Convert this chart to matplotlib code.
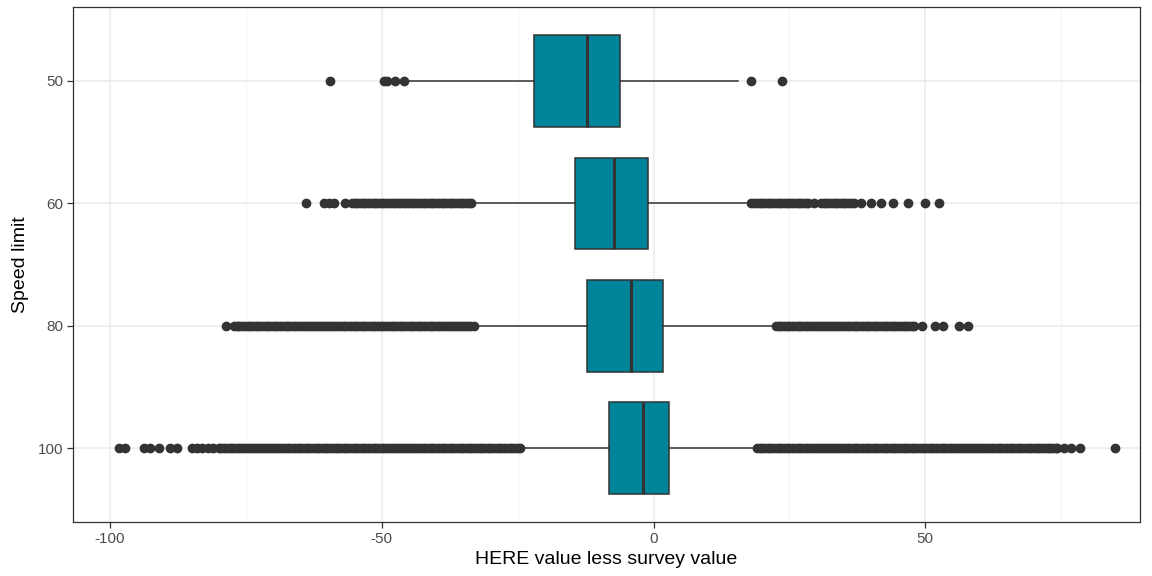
import matplotlib.pyplot as plt

# speed limit groups, top to bottom
speed_limits = ['50', '60', '80', '100']

# box statistics per group
q1 = [-22.0, -14.4, -12.2, -8.2]
medians = [-12.2, -7.3, -4.2, -1.9]
q3 = [-6.1, -1.1, 1.7, 2.8]
whisker_lo = [-45.0, -33.0, -32.5, -24.0]
whisker_hi = [15.5, 17.5, 22.0, 18.5]

# outlying points per group
outliers_50 = [-59.5, -49.6, -49.0, -47.6, -46.0, 18.0, 23.6]

outliers_60 = [
    -63.9, -60.6, -59.8, -58.8, -56.8,
    -55.5, -55.0, -54.5, -54.0, -53.5, -53.0, -52.5, -52.0, -51.5, -51.0,
    -50.5, -50.0, -49.5, -49.0, -48.5, -48.0, -47.5, -47.0, -46.5, -46.0,
    -45.5, -45.0, -44.5, -44.0, -43.5, -43.0, -42.5, -42.0, -41.5, -41.0,
    -40.5, -40.0, -39.5, -39.0, -38.5, -38.0, -37.5, -37.0, -36.5, -36.0,
    -35.5, -35.0, -34.5, -34.0, -33.5,
    18.0, 18.5, 19.0, 19.5, 20.0, 20.5, 21.0, 21.5, 22.0, 22.5, 23.0, 23.5,
    24.0, 24.5, 25.0, 25.5, 26.0, 26.5, 27.0, 27.5, 28.0, 28.5, 29.6,
    30.8, 31.3, 31.8, 32.3, 32.8, 33.3, 33.8, 34.3, 34.8, 35.3, 35.8, 36.3,
    36.9, 38.2, 40.0, 41.9, 44.0, 46.9, 49.9, 52.6]

outliers_80 = [
    -78.6, -77.2, -76.7, -76.2, -75.7, -75.2, -74.7, -74.2, -73.7, -73.2,
    -72.7, -72.2, -71.7, -71.2, -70.7, -70.2, -69.7, -69.2, -68.7, -68.2,
    -67.7, -67.2, -66.7, -66.2, -65.7, -65.2, -64.7, -64.2, -63.7, -63.2,
    -62.7, -62.2, -61.7, -61.2, -60.7, -60.2, -59.7, -59.2, -58.7, -58.2,
    -57.7, -57.2, -56.7, -56.2, -55.7, -55.2, -54.7, -54.2, -53.7, -53.2,
    -52.7, -52.2, -51.7, -51.2, -50.7, -50.2, -49.7, -49.2, -48.7, -48.2,
    -47.7, -47.2, -46.7, -46.2, -45.7, -45.2, -44.7, -44.2, -43.7, -43.2,
    -42.7, -42.2, -41.7, -41.2, -40.7, -40.2, -39.7, -39.2, -38.7, -38.2,
    -37.7, -37.2, -36.7, -36.2, -35.7, -35.2, -34.7, -34.2, -33.7, -33.0,
    22.5, 23.0, 23.5, 24.0, 24.5, 25.0, 25.5, 26.0, 26.5, 27.0, 27.5, 28.0,
    28.5, 29.0, 29.5, 30.0, 30.5, 31.0, 31.5, 32.0, 32.5, 33.0, 33.5, 34.0,
    34.5, 35.0, 35.5, 36.0, 36.5, 37.0, 37.5, 38.0, 38.5, 39.0, 39.5, 40.0,
    40.5, 41.0, 41.5, 42.0, 42.5, 43.0, 43.5, 44.0, 44.5, 45.0, 45.5, 46.0,
    46.5, 47.0, 47.5, 48.0, 49.4, 51.8, 53.3, 56.2, 57.9]

outliers_100 = [
    -98.3, -97.2, -93.8, -92.6, -90.9, -88.9, -87.6, -85.0, -84.0, -83.0,
    -82.0, -81.0, -80.0, -79.5, -79.0, -78.5, -78.0, -77.5, -77.0, -76.5,
    -76.0, -75.5, -75.0, -74.5, -74.0, -73.5, -73.0, -72.5, -72.0, -71.5,
    -71.0, -70.5, -70.0, -69.5, -69.0, -68.5, -68.0, -67.5, -67.0, -66.5,
    -66.0, -65.5, -65.0, -64.5, -64.0, -63.5, -63.0, -62.5, -62.0, -61.5,
    -61.0, -60.5, -60.0, -59.5, -59.0, -58.5, -58.0, -57.5, -57.0, -56.5,
    -56.0, -55.5, -55.0, -54.5, -54.0, -53.5, -53.0, -52.5, -52.0, -51.5,
    -51.0, -50.5, -50.0, -49.5, -49.0, -48.5, -48.0, -47.5, -47.0, -46.5,
    -46.0, -45.5, -45.0, -44.5, -44.0, -43.5, -43.0, -42.5, -42.0, -41.5,
    -41.0, -40.5, -40.0, -39.5, -39.0, -38.5, -38.0, -37.5, -37.0, -36.5,
    -36.0, -35.5, -35.0, -34.5, -34.0, -33.5, -33.0, -32.5, -32.0, -31.5,
    -31.0, -30.5, -30.0, -29.5, -29.0, -28.5, -28.0, -27.5, -27.0, -26.5,
    -26.0, -25.5, -25.0, -24.6,
    19.0, 19.5, 20.0, 20.5, 21.0, 21.5, 22.0, 22.5, 23.0, 23.5, 24.0, 24.5,
    25.0, 25.5, 26.0, 26.5, 27.0, 27.5, 28.0, 28.5, 29.0, 29.5, 30.0, 30.5,
    31.0, 31.5, 32.0, 32.5, 33.0, 33.5, 34.0, 34.5, 35.0, 35.5, 36.0, 36.5,
    37.0, 37.5, 38.0, 38.5, 39.0, 39.5, 40.0, 40.5, 41.0, 41.5, 42.0, 42.5,
    43.0, 43.5, 44.0, 44.5, 45.0, 45.5, 46.0, 46.5, 47.0, 47.5, 48.0, 48.5,
    49.0, 49.5, 50.0, 50.5, 51.0, 51.5, 52.0, 52.5, 53.0, 53.5, 54.0, 54.5,
    55.0, 55.5, 56.0, 56.5, 57.0, 57.5, 58.0, 58.5, 59.0, 59.5, 60.0, 60.5,
    61.0, 61.5, 62.0, 62.5, 63.0, 63.5, 64.0, 64.5, 65.0, 65.5, 66.0, 66.5,
    67.0, 67.5, 68.0, 68.5, 69.0, 69.5, 70.0, 70.5, 71.0, 71.5, 72.0, 72.5,
    73.0, 73.5, 74.0, 74.3, 75.5, 76.8, 78.4, 84.9]

outliers = [outliers_50, outliers_60, outliers_80, outliers_100]

stats = []
for i in range(len(speed_limits)):
    stats.append({'q1': q1[i], 'med': medians[i], 'q3': q3[i],
                  'whislo': whisker_lo[i], 'whishi': whisker_hi[i],
                  'fliers': outliers[i]})

plt.rcParams['font.family'] = ['Liberation Sans', 'DejaVu Sans']

fig = plt.figure(figsize=(11.52, 5.76), dpi=100)
ax = fig.add_axes([0.0634, 0.094, 0.9262, 0.893])

dark = '#333333'
ax.bxp(stats, positions=range(1, len(speed_limits) + 1), widths=0.75,
       orientation='horizontal', showcaps=False, patch_artist=True,
       boxprops=dict(facecolor='#00849a', edgecolor=dark, linewidth=1.1),
       medianprops=dict(color=dark, linewidth=2.2),
       whiskerprops=dict(color=dark, linewidth=1.1),
       flierprops=dict(marker='o', markerfacecolor=dark, markeredgecolor=dark,
                       markersize=6.0, linestyle='none'),
       zorder=3)

ax.set_xlim(-106.8, 89.5)
ax.set_ylim(4.6, 0.4)
ax.set_xticks([-100, -50, 0, 50])
ax.set_xticklabels(['-100', '-50', '0', '50'])
ax.set_xticks([-75, -25, 25, 75], minor=True)
ax.set_yticks(range(1, len(speed_limits) + 1))
ax.set_yticklabels(speed_limits)

# theme_bw look
ax.set_facecolor('white')
ax.grid(True, which='major', color='#ebebeb', linewidth=1.1, zorder=0)
ax.grid(True, which='minor', axis='x', color='#f2f2f2', linewidth=0.6, zorder=0)
ax.set_axisbelow(True)
for spine in ax.spines.values():
    spine.set_color(dark)
    spine.set_linewidth(0.9)
ax.tick_params(which='major', length=4, width=0.9, color=dark,
               labelcolor='#4d4d4d', labelsize=11, pad=3)
ax.tick_params(which='minor', length=0)

ax.set_xlabel('HERE value less survey value', fontsize=14, color='black',
              labelpad=4)
ax.set_ylabel('Speed limit', fontsize=14, color='black', labelpad=6)

fig.savefig('out.png', dpi=100)
